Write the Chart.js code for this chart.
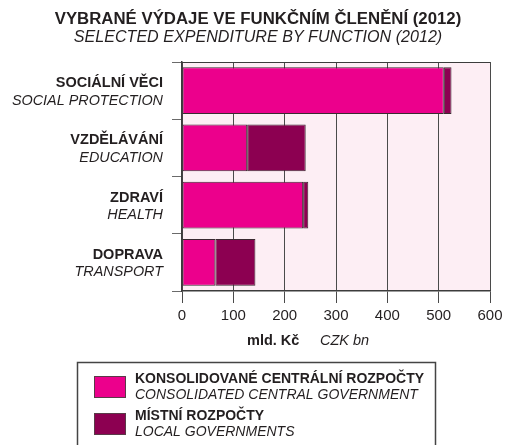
<!DOCTYPE html>
<html>
<head>
<meta charset="utf-8">
<script src="https://cdn.jsdelivr.net/npm/chart.js@4"></script>
<style>
  html, body { margin: 0; padding: 0; background: #fff; }
  #wrap { width: 515px; height: 445px; position: relative; }
</style>
</head>
<body>
<div id="wrap"><canvas id="chart" width="515" height="445"></canvas></div>
<script>
// data
const categoriesCz = ['SOCIÁLNÍ VĚCI', 'VZDĚLÁVÁNÍ', 'ZDRAVÍ', 'DOPRAVA'];
const categoriesEn = ['SOCIAL PROTECTION', 'EDUCATION', 'HEALTH', 'TRANSPORT'];
const centralValues = [510, 127, 236, 65];
const localValues = [15, 114, 10, 78];
const xTicks = [0, 100, 200, 300, 400, 500, 600];
const seriesCz = ['KONSOLIDOVANÉ CENTRÁLNÍ ROZPOČTY', 'MÍSTNÍ ROZPOČTY'];
const seriesEn = ['CONSOLIDATED CENTRAL GOVERNMENT', 'LOCAL GOVERNMENTS'];

const FONT = '"Liberation Sans", Arial, sans-serif';
const TEXT = '#231f20';
const colors = ['#ec008c', '#8c0051'];

// titulky, popisky kategorii, legenda
const decor = {
    id: 'decor',
    beforeDraw(chart) {
        const { ctx, chartArea: a } = chart;
        ctx.save();
        ctx.fillStyle = '#fdeef4';
        ctx.fillRect(a.left, a.top, a.right - a.left, a.bottom - a.top);
        ctx.restore();
    },
    afterDraw(chart) {
        const { ctx, chartArea: a } = chart;
        const yScale = chart.scales.y;
        ctx.save();
        ctx.fillStyle = TEXT;
        ctx.textBaseline = 'middle';

        // titulek
        ctx.textAlign = 'center';
        ctx.font = 'bold 16.8px ' + FONT;
        ctx.fillText('VYBRANÉ VÝDAJE VE FUNKČNÍM ČLENĚNÍ (2012)', 258, 19);
        ctx.font = 'italic 16.1px ' + FONT;
        ctx.fillText('SELECTED EXPENDITURE BY FUNCTION (2012)', 258, 37.5);

        // kategorie
        ctx.textAlign = 'right';
        categoriesCz.forEach((c, i) => {
            const y = yScale.getPixelForValue(i);
            ctx.font = 'bold 14.5px ' + FONT;
            ctx.fillText(c, 163, y - 7.5);
            ctx.font = 'italic 14.4px ' + FONT;
            ctx.fillText(categoriesEn[i], 163, y + 10);
        });

        // ramecek plochy grafu
        ctx.strokeStyle = '#3c3c3c';
        ctx.lineWidth = 1;
        ctx.beginPath();
        ctx.moveTo(a.left, a.top + 0.5);
        ctx.lineTo(a.right, a.top + 0.5);
        ctx.stroke();

        // nazev osy x
        ctx.textAlign = 'left';
        ctx.font = 'bold 14.5px ' + FONT;
        ctx.fillText('mld. Kč', 247, 340.5);
        ctx.font = 'italic 14.5px ' + FONT;
        ctx.fillText('CZK bn', 320, 340.5);

        // legenda
        ctx.strokeStyle = '#444';
        ctx.lineWidth = 1.5;
        ctx.beginPath();
        ctx.moveTo(77.5, 446);
        ctx.lineTo(77.5, 362.5);
        ctx.lineTo(435.5, 362.5);
        ctx.lineTo(435.5, 446);
        ctx.stroke();
        const rows = [376, 413];
        rows.forEach((top, i) => {
            ctx.fillStyle = colors[i];
            ctx.fillRect(94, top, 32, 22);
            ctx.strokeStyle = '#5a3a48';
            ctx.lineWidth = 1;
            ctx.strokeRect(94.5, top + 0.5, 31, 21);
            ctx.fillStyle = TEXT;
            ctx.font = 'bold 14px ' + FONT;
            ctx.fillText(seriesCz[i], 135, top + 3.5);
            ctx.font = 'italic 14px ' + FONT;
            ctx.fillText(seriesEn[i], 135, top + 19.5);
        });
        ctx.restore();
    }
};

const ctx = document.getElementById('chart').getContext('2d');
new Chart(ctx, {
    type: 'bar',
    data: {
        labels: categoriesCz,
        datasets: [
            { label: seriesCz[0], data: centralValues, backgroundColor: colors[0] },
            { label: seriesCz[1], data: localValues, backgroundColor: colors[1] }
        ]
    },
    options: {
        indexAxis: 'y',
        responsive: false,
        animation: false,
        layout: { padding: { top: 62, right: 25, left: 0, bottom: 0 } },
        datasets: {
            bar: {
                categoryPercentage: 1,
                barPercentage: 0.82,
                borderWidth: 1,
                borderColor: '#3a2a30',
                borderSkipped: false
            }
        },
        scales: {
            x: {
                stacked: true,
                min: 0,
                max: 600,
                afterFit: (s) => { s.height = 154; },
                afterBuildTicks: (s) => { s.ticks = xTicks.map(v => ({ value: v })); },
                border: { color: '#3c3c3c', width: 1.5 },
                grid: { color: '#4a4a4a', lineWidth: 1, tickLength: 12 },
                ticks: { color: TEXT, font: { family: FONT, size: 15 }, padding: 4 }
            },
            y: {
                stacked: true,
                afterFit: (s) => { s.width = 182; },
                border: { color: '#3c3c3c', width: 1.5 },
                grid: { color: '#6a6a6a', drawOnChartArea: false, tickLength: 10, offset: true },
                ticks: { callback: () => '' }
            }
        },
        plugins: {
            legend: { display: false },
            tooltip: { enabled: false }
        }
    },
    plugins: [decor]
});
</script>
</body>
</html>
